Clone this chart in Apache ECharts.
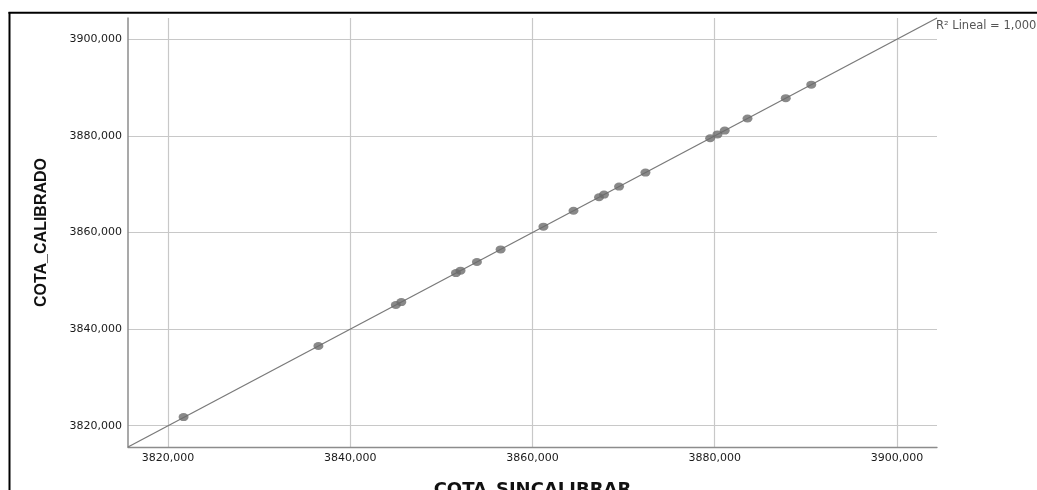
<!DOCTYPE html>
<html>
<head>
<meta charset="utf-8">
<script src="https://cdn.jsdelivr.net/npm/echarts@6/dist/echarts.min.js"></script>
<style>
  html, body { margin: 0; padding: 0; background: #ffffff; }
  #chart { width: 1037px; height: 490px; }
</style>
</head>
<body>
<div id="chart"></div>
<script>
// ---- data ----
const cotaSinCalibrar = [3821.7, 3836.5, 3845.0, 3845.6, 3851.6, 3852.1, 3853.9, 3856.5, 3861.2, 3864.5,
                         3867.3, 3867.85, 3869.5, 3872.4, 3879.5, 3880.3, 3881.1, 3883.6, 3887.8, 3890.6];
const cotaCalibrado   = [3821.8, 3836.5, 3845.0, 3845.6, 3851.6, 3852.1, 3853.9, 3856.5, 3861.2, 3864.5,
                         3867.3, 3867.85, 3869.5, 3872.4, 3879.5, 3880.3, 3881.1, 3883.6, 3887.8, 3890.6];
const xTicks = [3820, 3840, 3860, 3880, 3900];
const yTicks = [3820, 3840, 3860, 3880, 3900];
const axisMin = 3815.6;
const axisMax = 3904.4;
const fitLine = [[3815.6, 3815.6], [3904.4, 3904.4]];
const fitLabel = 'R² Lineal = 1,000';
const xTitle = 'COTA_SINCALIBRAR';
const yTitle = 'COTA_CALIBRADO';

const fmt = v => Number(v).toFixed(3).replace('.', ',');
const points = cotaSinCalibrar.map((x, i) => [x, cotaCalibrado[i]]);

const chart = echarts.init(document.getElementById('chart'), null, { renderer: 'canvas' });
const labelStyle = { fontFamily: 'DejaVu Sans', fontSize: 11, color: '#1a1a1a' };

chart.setOption({
  backgroundColor: '#ffffff',
  animation: false,
  grid: { left: 128, right: 100, top: 18, bottom: 43, containLabel: false, outerBoundsMode: 'none' },
  xAxis: {
    type: 'value', min: axisMin, max: axisMax,
    name: xTitle, nameLocation: 'middle', nameGap: 34,
    nameTextStyle: { fontFamily: 'DejaVu Sans', fontWeight: 'bold', fontSize: 18, color: '#111' },
    axisLine: { show: true, onZero: false, lineStyle: { color: '#8c8c8c', width: 1.3 } },
    axisTick: { show: false, customValues: xTicks },
    axisLabel: Object.assign({ customValues: xTicks, formatter: fmt, margin: 6 }, labelStyle),
    splitLine: { show: true, lineStyle: { color: '#c8c8c8', width: 1.2 } }
  },
  yAxis: {
    type: 'value', min: axisMin, max: axisMax,
    name: yTitle, nameLocation: 'middle', nameGap: 78, nameRotate: 90,
    nameTextStyle: { fontFamily: 'Liberation Sans', fontWeight: 'bold', fontSize: 16, color: '#111' },
    axisLine: { show: true, onZero: false, lineStyle: { color: '#8c8c8c', width: 1.5 } },
    axisTick: { show: false, customValues: yTicks },
    axisLabel: Object.assign({ customValues: yTicks, formatter: fmt, margin: 6 }, labelStyle),
    splitLine: { show: true, lineStyle: { color: '#c8c8c8', width: 1.2 } }
  },
  series: [
    {
      type: 'line', data: fitLine, symbol: 'none', clip: false,
      lineStyle: { color: '#7a7a7a', width: 1.3 }, z: 2, silent: true
    },
    {
      type: 'scatter', data: points, symbol: 'circle', symbolSize: [10, 8],
      itemStyle: { color: '#6b6b6b' }, z: 3
    }
  ],
  graphic: [
    { type: 'line', shape: { x1: 9.5, y1: 12, x2: 9.5, y2: 490 }, style: { stroke: '#000', lineWidth: 2 } },
    { type: 'line', shape: { x1: 8.5, y1: 12.8, x2: 1037, y2: 12.8 }, style: { stroke: '#000', lineWidth: 2 } },
    { type: 'text', left: 936, top: 20,
      style: { text: fitLabel, fontFamily: 'DejaVu Sans', fontSize: 11.5, fill: '#555' } }
  ]
});
</script>
</body>
</html>
